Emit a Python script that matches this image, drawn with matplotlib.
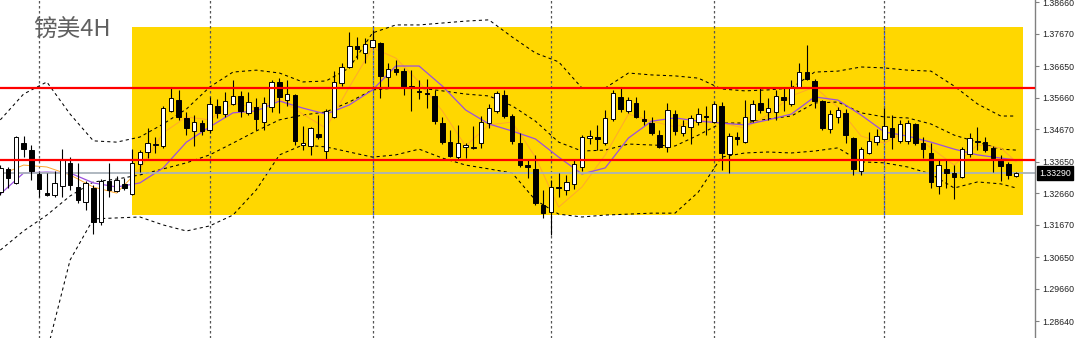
import matplotlib
matplotlib.use('Agg')
import matplotlib.pyplot as plt
from matplotlib.patches import Rectangle
from matplotlib.transforms import blended_transform_factory

# GBPUSD 4H candles
opens = [
    1.3269, 1.3342, 1.3298, 1.3423, 1.3401, 1.3326, 1.3266, 1.3260, 1.3288, 1.3361,
    1.3285, 1.3238, 1.3282, 1.3175, 1.3304, 1.3273, 1.3295, 1.3263, 1.3357, 1.3395,
    1.3417, 1.3414, 1.3524, 1.3558, 1.3502, 1.3461, 1.3486, 1.3464, 1.3540, 1.3514,
    1.3546, 1.3571, 1.3518, 1.3536, 1.3489, 1.3536, 1.3615, 1.3558, 1.3574, 1.3417,
    1.3414, 1.3452, 1.3398, 1.3505, 1.3612, 1.3662, 1.3728, 1.3706, 1.3725, 1.3737,
    1.3631, 1.3656, 1.3649, 1.3602, 1.3587, 1.3580, 1.3571, 1.3486, 1.3426, 1.3379,
    1.3411, 1.3408, 1.3423, 1.3486, 1.3524, 1.3574, 1.3508, 1.3423, 1.3354, 1.3342,
    1.3229, 1.3207, 1.3285, 1.3276, 1.3295, 1.3348, 1.3439, 1.3442, 1.3423, 1.3499,
    1.3568, 1.3524, 1.3549, 1.3499, 1.3486, 1.3448, 1.3411, 1.3514, 1.3455, 1.3474,
    1.3489, 1.3508, 1.3489, 1.3540, 1.3389, 1.3442, 1.3426, 1.3496, 1.3549, 1.3521,
    1.3521, 1.3568, 1.3546, 1.3599, 1.3646, 1.3618, 1.3555, 1.3467, 1.3505, 1.3518,
    1.3439, 1.3335, 1.3392, 1.3426, 1.3436, 1.3470, 1.3430, 1.3430, 1.3483, 1.3423,
    1.3392, 1.3288, 1.3342, 1.3329, 1.3317, 1.3389, 1.3426, 1.3426, 1.3408, 1.3370,
    1.3357, 1.3320]
highs = [
    1.3354, 1.3348, 1.3445, 1.3445, 1.3417, 1.3332, 1.3329, 1.3335, 1.3404, 1.3379,
    1.3361, 1.3304, 1.3291, 1.3310, 1.3361, 1.3320, 1.3313, 1.3404, 1.3401, 1.3470,
    1.3442, 1.3540, 1.3596, 1.3590, 1.3521, 1.3511, 1.3496, 1.3568, 1.3561, 1.3583,
    1.3621, 1.3587, 1.3583, 1.3565, 1.3568, 1.3621, 1.3627, 1.3621, 1.3577, 1.3477,
    1.3474, 1.3511, 1.3530, 1.3649, 1.3675, 1.3772, 1.3756, 1.3753, 1.3778, 1.3740,
    1.3675, 1.3684, 1.3659, 1.3653, 1.3621, 1.3624, 1.3590, 1.3505, 1.3464, 1.3480,
    1.3423, 1.3477, 1.3508, 1.3546, 1.3587, 1.3590, 1.3514, 1.3455, 1.3370, 1.3386,
    1.3276, 1.3307, 1.3329, 1.3323, 1.3370, 1.3448, 1.3464, 1.3480, 1.3527, 1.3590,
    1.3596, 1.3568, 1.3568, 1.3527, 1.3505, 1.3464, 1.3549, 1.3527, 1.3496, 1.3511,
    1.3533, 1.3540, 1.3552, 1.3552, 1.3455, 1.3458, 1.3558, 1.3558, 1.3596, 1.3565,
    1.3590, 1.3599, 1.3621, 1.3675, 1.3731, 1.3624, 1.3558, 1.3527, 1.3536, 1.3530,
    1.3442, 1.3411, 1.3458, 1.3467, 1.3533, 1.3511, 1.3496, 1.3496, 1.3486, 1.3442,
    1.3423, 1.3370, 1.3373, 1.3354, 1.3411, 1.3455, 1.3474, 1.3442, 1.3414, 1.3386,
    1.3364, 1.3332]
lows = [
    1.3260, 1.3282, 1.3295, 1.3379, 1.3307, 1.3254, 1.3257, 1.3254, 1.3254, 1.3276,
    1.3235, 1.3213, 1.3138, 1.3166, 1.3254, 1.3269, 1.3276, 1.3260, 1.3332, 1.3376,
    1.3392, 1.3408, 1.3521, 1.3496, 1.3448, 1.3414, 1.3448, 1.3455, 1.3502, 1.3505,
    1.3543, 1.3505, 1.3511, 1.3464, 1.3464, 1.3521, 1.3518, 1.3540, 1.3417, 1.3401,
    1.3386, 1.3436, 1.3370, 1.3502, 1.3602, 1.3659, 1.3687, 1.3675, 1.3722, 1.3565,
    1.3596, 1.3637, 1.3574, 1.3524, 1.3561, 1.3533, 1.3483, 1.3420, 1.3379, 1.3370,
    1.3376, 1.3404, 1.3408, 1.3470, 1.3518, 1.3502, 1.3420, 1.3348, 1.3313, 1.3229,
    1.3188, 1.3134, 1.3254, 1.3260, 1.3279, 1.3335, 1.3420, 1.3401, 1.3417, 1.3492,
    1.3521, 1.3518, 1.3502, 1.3480, 1.3448, 1.3408, 1.3395, 1.3448, 1.3445, 1.3420,
    1.3480, 1.3448, 1.3486, 1.3339, 1.3329, 1.3417, 1.3423, 1.3489, 1.3518, 1.3496,
    1.3496, 1.3524, 1.3540, 1.3596, 1.3621, 1.3533, 1.3464, 1.3455, 1.3486, 1.3423,
    1.3323, 1.3323, 1.3389, 1.3417, 1.3433, 1.3404, 1.3423, 1.3420, 1.3417, 1.3376,
    1.3282, 1.3263, 1.3282, 1.3247, 1.3313, 1.3379, 1.3401, 1.3395, 1.3332, 1.3304,
    1.3310, 1.3317]
closes = [
    1.3345, 1.3313, 1.3442, 1.3404, 1.3335, 1.3279, 1.3260, 1.3298, 1.3370, 1.3291,
    1.3244, 1.3298, 1.3175, 1.3304, 1.3276, 1.3307, 1.3282, 1.3361, 1.3395, 1.3423,
    1.3420, 1.3533, 1.3565, 1.3505, 1.3470, 1.3489, 1.3461, 1.3546, 1.3518, 1.3555,
    1.3571, 1.3524, 1.3552, 1.3499, 1.3549, 1.3615, 1.3568, 1.3577, 1.3430, 1.3423,
    1.3470, 1.3442, 1.3524, 1.3615, 1.3662, 1.3728, 1.3718, 1.3734, 1.3747, 1.3634,
    1.3656, 1.3646, 1.3596, 1.3596, 1.3583, 1.3577, 1.3492, 1.3426, 1.3383, 1.3423,
    1.3417, 1.3411, 1.3489, 1.3533, 1.3580, 1.3508, 1.3430, 1.3354, 1.3348, 1.3235,
    1.3203, 1.3285, 1.3282, 1.3301, 1.3357, 1.3442, 1.3445, 1.3436, 1.3502, 1.3580,
    1.3530, 1.3558, 1.3505, 1.3492, 1.3455, 1.3411, 1.3527, 1.3461, 1.3477, 1.3502,
    1.3514, 1.3505, 1.3546, 1.3392, 1.3445, 1.3436, 1.3505, 1.3546, 1.3527, 1.3533,
    1.3571, 1.3558, 1.3596, 1.3646, 1.3624, 1.3555, 1.3470, 1.3514, 1.3527, 1.3448,
    1.3342, 1.3404, 1.3430, 1.3445, 1.3477, 1.3442, 1.3483, 1.3486, 1.3423, 1.3404,
    1.3301, 1.3354, 1.3329, 1.3317, 1.3404, 1.3439, 1.3430, 1.3401, 1.3376, 1.3351,
    1.3323, 1.3329]

# indicator lines, sampled every 3rd candle (plus the last one)
line_idx = list(range(0, 130, 3)) + [131]
upper_band = [
    1.3496, 1.3577, 1.3615, 1.3514, 1.3430, 1.3426, 1.3442, 1.3483, 1.3530, 1.3599,
    1.3646, 1.3652, 1.3643, 1.3615, 1.3618, 1.3659, 1.3769, 1.3794, 1.3794, 1.3800,
    1.3806, 1.3810, 1.3756, 1.3706, 1.3678, 1.3596, 1.3596, 1.3643, 1.3637, 1.3634,
    1.3627, 1.3593, 1.3587, 1.3590, 1.3596, 1.3646, 1.3649, 1.3662, 1.3659, 1.3652,
    1.3649, 1.3602, 1.3546, 1.3508, 1.3508]
middle_band = [
    1.3087, 1.3147, 1.3197, 1.3257, 1.3301, 1.3310, 1.3323, 1.3342, 1.3361, 1.3386,
    1.3423, 1.3461, 1.3496, 1.3511, 1.3521, 1.3552, 1.3590, 1.3596, 1.3596, 1.3587,
    1.3577, 1.3571, 1.3540, 1.3492, 1.3426, 1.3398, 1.3401, 1.3420, 1.3417, 1.3414,
    1.3448, 1.3486, 1.3486, 1.3499, 1.3508, 1.3549, 1.3552, 1.3518, 1.3505, 1.3502,
    1.3483, 1.3448, 1.3426, 1.3404, 1.3401]
lower_band = [  # starts at candle 6, earlier values are below the chart
    1.2767, 1.3056, 1.3185, 1.3188, 1.3191, 1.3166, 1.3147, 1.3163, 1.3197, 1.3276,
    1.3386, 1.3417, 1.3411, 1.3395, 1.3379, 1.3386, 1.3404, 1.3376, 1.3354, 1.3342,
    1.3329, 1.3244, 1.3200, 1.3191, 1.3197, 1.3200, 1.3203, 1.3203, 1.3269, 1.3379,
    1.3392, 1.3395, 1.3392, 1.3398, 1.3408, 1.3364, 1.3361, 1.3348, 1.3326, 1.3282,
    1.3301, 1.3295, 1.3282]
fast_ma = [
    1.3323, 1.3354, 1.3348, 1.3323, 1.3285, 1.3266, 1.3342, 1.3455, 1.3505, 1.3496,
    1.3549, 1.3533, 1.3561, 1.3514, 1.3470, 1.3599, 1.3722, 1.3690, 1.3615, 1.3524,
    1.3414, 1.3480, 1.3489, 1.3379, 1.3222, 1.3285, 1.3386, 1.3514, 1.3492, 1.3474,
    1.3496, 1.3486, 1.3470, 1.3511, 1.3571, 1.3599, 1.3536, 1.3445, 1.3423, 1.3461,
    1.3408, 1.3354, 1.3417, 1.3408, 1.3364]
slow_ma = [
    1.3263, 1.3329, 1.3332, 1.3329, 1.3298, 1.3285, 1.3298, 1.3345, 1.3426, 1.3474,
    1.3518, 1.3524, 1.3555, 1.3533, 1.3514, 1.3543, 1.3590, 1.3665, 1.3665, 1.3602,
    1.3527, 1.3483, 1.3461, 1.3436, 1.3379, 1.3326, 1.3345, 1.3439, 1.3492, 1.3502,
    1.3492, 1.3486, 1.3480, 1.3496, 1.3514, 1.3568, 1.3558, 1.3511, 1.3458, 1.3445,
    1.3426, 1.3404, 1.3386, 1.3376, 1.3370]

levels = [1.3595, 1.3370]
last_price = 1.3329
box_left, box_right = 17.0, 131.9
box_bottom, box_top = 1.3197, 1.3787
grid_idx = [5, 27, 48, 71, 92, 114]
blue_idx = [48, 114]
price_ticks = [1.38660, 1.37670, 1.36650, 1.35660, 1.34670, 1.33650,
               1.32660, 1.31670, 1.30650, 1.29660, 1.28640]

fig = plt.figure(figsize=(10.8, 3.38), dpi=100)
ax = fig.add_axes([0, 0, 1035 / 1080, 1])
ax.set_xlim(-0.04, 133.42)
ax.set_ylim(1.28110, 1.38723)

ax.add_patch(Rectangle((box_left, box_bottom), box_right - box_left, box_top - box_bottom,
                       facecolor='#FFD700', edgecolor='none', zorder=0))

for g in grid_idx:
    ax.axvline(g, color='#555555', lw=0.9, ls=(0, (2, 2)), zorder=1)
ax.vlines(blue_idx, box_bottom, box_top, colors='#3d5cff', lw=0.9,
          linestyles=(0, (2, 2)), zorder=1.1)

dash = (0, (3, 3))
ax.plot(line_idx, upper_band, color='black', lw=0.75, ls=dash, zorder=2)
ax.plot(line_idx, middle_band, color='black', lw=0.75, ls=dash, zorder=2)
ax.plot(line_idx[2:], lower_band, color='black', lw=0.75, ls=dash, zorder=2)
ax.plot(line_idx, fast_ma, color='#FFA82E', lw=0.7, zorder=2.2)
ax.plot(line_idx, slow_ma, color='#9b4fe0', lw=0.9, zorder=2.3)

ax.axhline(last_price, color='#a9b2bb', lw=1.3, zorder=2.5)

idx = list(range(len(opens)))
ax.vlines(idx, lows, highs, colors='black', lw=0.8, zorder=3)
bottoms = [min(o, c) for o, c in zip(opens, closes)]
heights = [max(abs(c - o), 0.00005) for o, c in zip(opens, closes)]
faces = ['white' if c >= o else 'black' for o, c in zip(opens, closes)]
ax.bar(idx, heights, bottom=bottoms, width=0.58, color=faces,
       edgecolor='black', linewidth=0.7, zorder=3.5)

for lv in levels:
    ax.axhline(lv, color='#ff0000', lw=1.6, zorder=5)

for side in ['top', 'left', 'bottom']:
    ax.spines[side].set_visible(False)
ax.spines['right'].set_color('#808080')
ax.spines['right'].set_linewidth(1.0)
ax.set_xticks([])
ax.yaxis.tick_right()
ax.set_yticks(price_ticks)
ax.set_yticklabels([f'{v:.5f}' for v in price_ticks],
                   fontfamily='Liberation Sans', fontsize=6.3)
ax.tick_params(axis='y', direction='out', length=3, width=0.8,
               colors='#808080', labelcolor='#202020', pad=2)

trans = blended_transform_factory(ax.transAxes, ax.transData)
ax.text(1.0 + 4 / 1035, last_price, f'{last_price:.5f}', transform=trans,
        ha='left', va='center', color='white', fontsize=6.3,
        fontfamily='Liberation Sans', clip_on=False, zorder=10,
        bbox=dict(boxstyle='square,pad=0.25', facecolor='black', edgecolor='black'))

fig.text(33 / 1080, 1 - 30 / 338, '镑美4H', fontsize=17, color='#606060',
         family=['Noto Sans CJK SC', 'DejaVu Sans'], ha='left', va='center')

fig.savefig('out.png', dpi=100)
